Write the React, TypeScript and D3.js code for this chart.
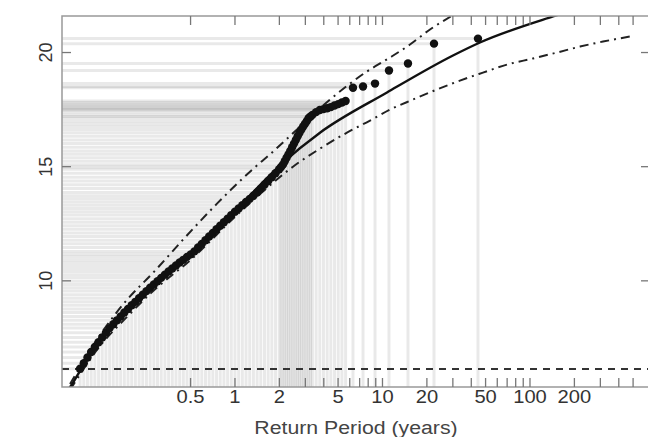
import React from 'react';
import * as d3 from 'd3';

// Empirical return periods (years) and return levels
const obsPeriods = [
  0.0891, 0.0944, 0.1, 0.1059, 0.1122, 0.1189, 0.1259, 0.1334, 0.1413, 0.1496,
  0.1585, 0.1679, 0.1778, 0.1884, 0.1995, 0.2113, 0.2239, 0.2371, 0.2512, 0.2661,
  0.2818, 0.2985, 0.3162, 0.335, 0.3548, 0.3758, 0.3981, 0.4217, 0.4467, 0.4732,
  0.5012, 0.5309, 0.5623, 0.5957, 0.631, 0.6683, 0.7079, 0.7499, 0.7943, 0.8414,
  0.8913, 0.9441, 1.0, 1.0593, 1.122, 1.1885, 1.2589, 1.3335, 1.4125, 1.4962,
  1.5849, 1.6788, 1.7783, 1.8836, 1.9953, 2.0536, 2.1135, 2.1752, 2.2387, 2.3041,
  2.3714, 2.4406, 2.5119, 2.5852, 2.6607, 2.7384, 2.8184, 2.9007, 2.9854, 3.0726,
  3.1623, 3.2546, 3.3497, 3.5481, 3.7584, 3.9811, 4.217, 4.4668, 4.7315, 5.0119,
  5.3088, 5.6234, 6.31, 7.38, 8.9, 11.07, 14.89, 22.35, 44.4,
];
const obsLevels = [
  6.15, 6.39, 6.64, 6.88, 7.1, 7.31, 7.52, 7.73, 7.93, 8.1,
  8.27, 8.44, 8.61, 8.77, 8.93, 9.08, 9.24, 9.39, 9.55, 9.7,
  9.84, 9.98, 10.13, 10.27, 10.41, 10.54, 10.67, 10.8, 10.92, 11.05,
  11.16, 11.29, 11.46, 11.62, 11.78, 11.94, 12.1, 12.26, 12.41, 12.57,
  12.72, 12.88, 13.03, 13.17, 13.31, 13.45, 13.59, 13.73, 13.87, 14.04,
  14.21, 14.37, 14.54, 14.71, 14.89, 14.99, 15.09, 15.24, 15.39, 15.54,
  15.69, 15.85, 16.01, 16.17, 16.33, 16.49, 16.63, 16.76, 16.88, 17.0,
  17.13, 17.2, 17.27, 17.39, 17.48, 17.52, 17.56, 17.61, 17.68, 17.74,
  17.81, 17.88, 18.46, 18.51, 18.64, 19.21, 19.52, 20.39, 20.61,
];

// Fitted return level curve
const fitPeriods = [0.0704, 0.0762, 0.0889, 0.1217, 0.1853, 0.2653, 0.5191, 1.0317, 2.1154, 3.769, 10.73, 30.06, 45.8, 143.2, 298, 500];
const fitLevels = [5.13, 5.35, 6.05, 7.41, 8.73, 9.74, 11.27, 13.16, 15.18, 16.49, 18.25, 19.87, 20.44, 21.58, 22.2, 22.6];

// Upper confidence bound
const upperPeriods = [0.0762, 0.1217, 0.1853, 0.278, 0.444, 0.755, 1.264, 1.81, 2.759, 4.407, 7.85, 11.24, 15.36, 21.0, 29.6, 42.4];
const upperLevels = [5.48, 7.63, 9.17, 10.35, 11.8, 13.38, 14.78, 15.66, 16.75, 17.94, 19.17, 19.78, 20.35, 21.01, 21.62, 22.32];

// Lower confidence bound
const lowerPeriods = [0.0762, 0.1217, 0.1853, 0.2653, 0.5191, 1.0317, 1.597, 2.473, 3.769, 5.745, 8.23, 11.24, 16.09, 23.4, 33.5, 48.0, 69.8, 104.8, 152.4, 218.3, 312.6, 476];
const lowerLevels = [5.22, 7.15, 8.42, 9.43, 11.01, 12.89, 13.99, 15.0, 15.79, 16.49, 17.02, 17.5, 17.94, 18.38, 18.77, 19.12, 19.47, 19.74, 20.0, 20.26, 20.48, 20.7];

const threshold = 6.14;

const xTickValues = [0.5, 1, 2, 3, 4, 5, 6, 7, 8, 9, 10, 20, 30, 40, 50, 60, 70, 80, 90, 100, 200, 300, 400, 500];
const xLabelValues = [0.5, 1, 2, 5, 10, 20, 50, 100, 200];
const yTickValues = [10, 15, 20];
const xTitle = 'Return Period (years)';

export default function App() {
  const W = 648, H = 437;
  const left = 62, right = 650, top = 16, bottom = 387;
  const x = d3.scaleLog().domain([0.0672, 651]).range([left, right]);
  const y = d3.scaleLinear().domain([5.35, 21.6]).range([bottom, top]);

  const mkLine = (ps: number[], ls: number[]) => {
    const pts: [number, number][] = ps.map((p, i) => [x(p), y(ls[i])]);
    return d3.line().curve(d3.curveMonotoneX)(pts) || '';
  };

  const obs = obsPeriods.map((p, i) => ({ px: x(p), py: y(obsLevels[i]) }));
  const font = "'Liberation Sans', Arial, Helvetica, sans-serif";
  const tickLen = 9;

  return (
    <svg width={W} height={H} style={{ position: 'absolute', left: 0, top: 0, background: '#fff' }}>
      <defs>
        <clipPath id="plotclip">
          <rect x={left} y={top} width={right - left} height={bottom - top} />
        </clipPath>
      </defs>
      <rect x={0} y={0} width={W} height={H} fill="#fff" />
      <g clipPath="url(#plotclip)">
        {obs.map((d, i) => (
          <g key={'g' + i}>
            <line x1={left} x2={d.px} y1={d.py} y2={d.py} stroke="#000" strokeOpacity={0.085} strokeWidth={3} />
            <line x1={d.px} x2={d.px} y1={bottom} y2={d.py} stroke="#000" strokeOpacity={0.085} strokeWidth={3} />
          </g>
        ))}
        <line x1={left} x2={right} y1={y(threshold)} y2={y(threshold)} stroke="#333" strokeWidth={2} strokeDasharray="7,6" />
        <path d={mkLine(upperPeriods, upperLevels)} fill="none" stroke="#222" strokeWidth={2} strokeDasharray="9,5,2,5" />
        <path d={mkLine(lowerPeriods, lowerLevels)} fill="none" stroke="#222" strokeWidth={2} strokeDasharray="9,5,2,5" />
        <path d={mkLine(fitPeriods, fitLevels)} fill="none" stroke="#111" strokeWidth={2.4} />
        {obs.map((d, i) => (
          <circle key={'c' + i} cx={d.px} cy={d.py} r={4.2} fill="#111" />
        ))}
      </g>
      <rect x={left} y={top} width={right - left} height={bottom - top} fill="none" stroke="#999" strokeWidth={1.5} />
      {xTickValues.map((t) => (
        <g key={'xt' + t}>
          <line x1={x(t)} x2={x(t)} y1={bottom} y2={bottom - tickLen} stroke="#777" strokeWidth={1.3} />
          <line x1={x(t)} x2={x(t)} y1={top} y2={top + tickLen} stroke="#777" strokeWidth={1.3} />
        </g>
      ))}
      {yTickValues.map((t) => (
        <g key={'yt' + t}>
          <line x1={left} x2={left + tickLen} y1={y(t)} y2={y(t)} stroke="#777" strokeWidth={1.3} />
          <line x1={right} x2={right - tickLen} y1={y(t)} y2={y(t)} stroke="#777" strokeWidth={1.3} />
          <text
            transform={`translate(52,${y(t)}) rotate(-90)`}
            textAnchor="middle"
            fontFamily={font}
            fontSize={18}
            fill="#333"
          >
            {String(t)}
          </text>
        </g>
      ))}
      {xLabelValues.map((t) => (
        <text
          key={'xl' + t}
          transform={`translate(${x(t)},403) scale(1.12,1)`}
          textAnchor="middle"
          fontFamily={font}
          fontSize={18}
          fill="#333"
        >
          {String(t)}
        </text>
      ))}
      <text
        transform={`translate(${(left + right) / 2},434) scale(1.12,1)`}
        textAnchor="middle"
        fontFamily={font}
        fontSize={19}
        fill="#444"
      >
        {xTitle}
      </text>
    </svg>
  );
}
